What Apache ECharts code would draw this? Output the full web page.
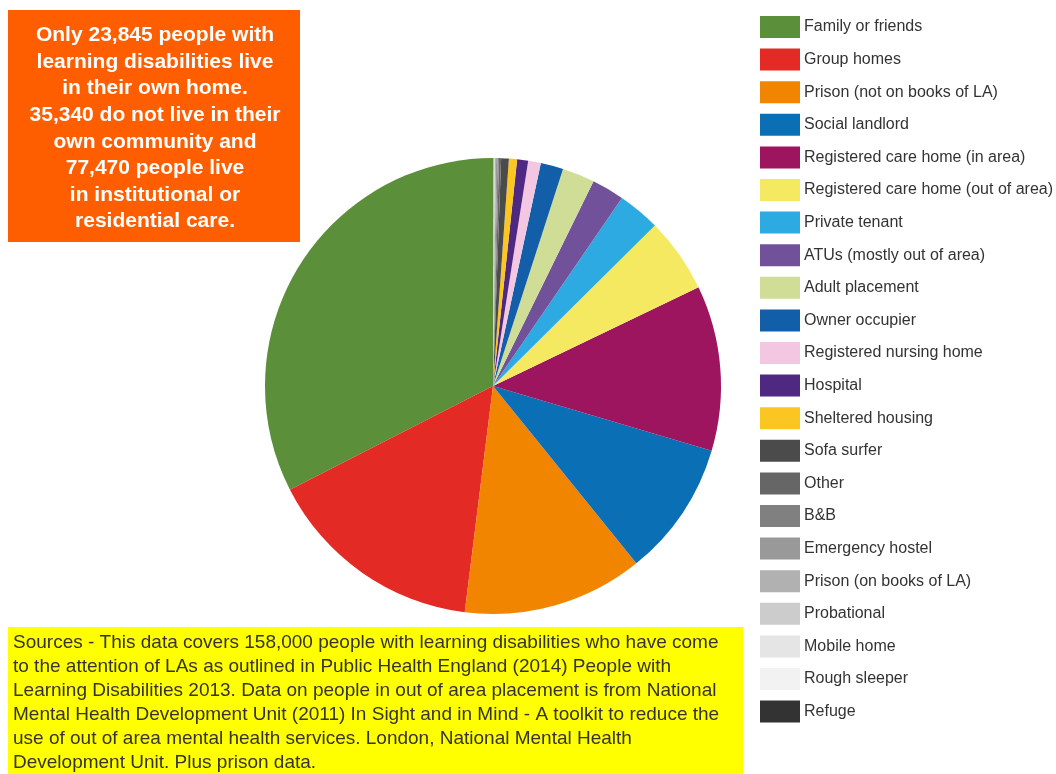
<!DOCTYPE html>
<html>
<head>
<meta charset="utf-8">
<script src="https://cdn.jsdelivr.net/npm/echarts@6/dist/echarts.min.js"></script>
<style>
  html, body { margin: 0; padding: 0; background: #ffffff; }
  #chart { width: 1056px; height: 774px; }
</style>
</head>
<body>
<div id="chart"></div>
<script>
// Categories (legend order = slice order, counterclockwise from 12 o'clock)
const categories = [
  'Family or friends', 'Group homes', 'Prison (not on books of LA)', 'Social landlord',
  'Registered care home (in area)', 'Registered care home (out of area)', 'Private tenant',
  'ATUs (mostly out of area)', 'Adult placement', 'Owner occupier', 'Registered nursing home',
  'Hospital', 'Sheltered housing', 'Sofa surfer', 'Other', 'B&B', 'Emergency hostel',
  'Prison (on books of LA)', 'Probational', 'Mobile home', 'Rough sleeper', 'Refuge'
];
// Estimated number of people in each setting
const people = [
  54600, 26040, 21500, 16130,
  19660, 8900, 5040,
  3860, 3860, 2690, 1510,
  1310, 970, 910, 250, 170, 170,
  130, 85, 65, 50, 35
];
const sliceColors = [
  '#5c8f3a', '#e42a25', '#f18500', '#0b6fb6',
  '#9c155e', '#f6e962', '#2eaae2',
  '#71529a', '#d0dd96', '#125ea9', '#f3c7e1',
  '#4f2881', '#fcc622', '#4b4b4b', '#666666', '#808080', '#999999',
  '#b1b1b1', '#cccccc', '#e5e5e5', '#f2f2f2', '#333333'
];
const headline = [
  'Only 23,845 people with',
  'learning disabilities live',
  'in their own home.',
  '35,340 do not live in their',
  'own community and',
  '77,470 people live',
  'in institutional or',
  'residential care.'
];
const sourceLines = [
  'Sources - This data covers 158,000 people with learning disabilities who have come',
  'to the attention of LAs as outlined in Public Health England (2014) People with',
  'Learning Disabilities 2013. Data on people in out of area placement is from National',
  'Mental Health Development Unit (2011) In Sight and in Mind - A toolkit to reduce the',
  'use of out of area mental health services. London, National Mental Health',
  'Development Unit. Plus prison data.'
];

const chart = echarts.init(document.getElementById('chart'), null, { renderer: 'canvas' });
const FONT = '"Liberation Sans", Arial, Helvetica, sans-serif';

chart.setOption({
  backgroundColor: '#ffffff',
  animation: false,
  color: sliceColors,
  legend: {
    orient: 'vertical',
    left: 760,
    top: 16,
    padding: 0,
    itemWidth: 40,
    itemHeight: 22,
    itemGap: 10.6,
    icon: 'rect',
    selectedMode: false,
    textStyle: { fontFamily: FONT, fontSize: 16, color: '#333333', padding: [0, 0, 0, -1] },
    data: categories
  },
  series: [{
    type: 'pie',
    center: [493, 386],
    radius: [0, 228],
    startAngle: 90,
    clockwise: false,
    label: { show: false },
    labelLine: { show: false },
    emphasis: { disabled: true },
    itemStyle: { borderWidth: 0 },
    data: categories.map((c, i) => ({ name: c, value: people[i] }))
  }],
  graphic: [
    { type: 'rect', left: 8, top: 10, shape: { width: 292, height: 232 }, style: { fill: '#ff5e00' }, silent: true },
    { type: 'text', x: 155, y: 128.5, silent: true,
      style: { text: headline.join('\n'), fill: '#ffffff', font: 'bold 21px ' + FONT, fontSize: 21, fontWeight: 'bold',
               lineHeight: 26.6, align: 'center', verticalAlign: 'middle' } },
    { type: 'rect', left: 8, top: 627, shape: { width: 735, height: 147 }, style: { fill: '#ffff00' }, silent: true },
    { type: 'text', x: 13, y: 631, silent: true,
      style: { text: sourceLines.join('\n'), fill: '#333333', font: '19px ' + FONT, fontSize: 19,
               lineHeight: 24, align: 'left', verticalAlign: 'top' } }
  ]
});
</script>
</body>
</html>
